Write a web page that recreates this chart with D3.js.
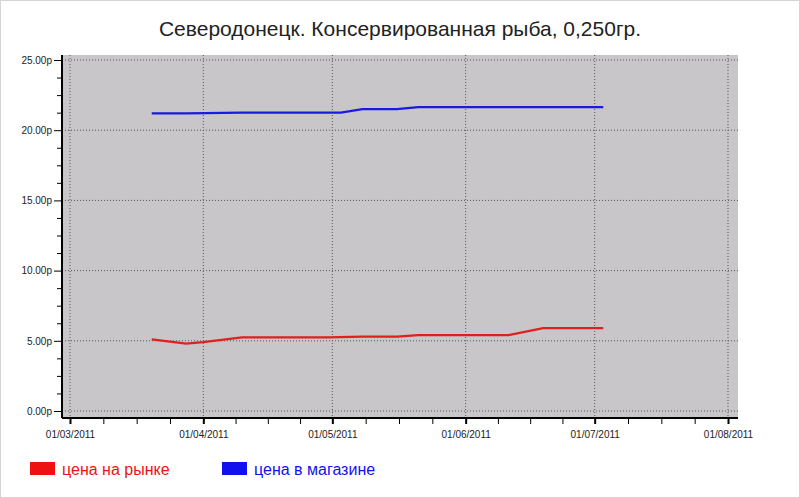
<!DOCTYPE html>
<html><head><meta charset="utf-8">
<script src="https://cdn.jsdelivr.net/npm/d3@7"></script>
<style>
body{margin:0;background:#fff;}
svg{font-family:"DejaVu Sans",sans-serif;}
</style></head>
<body><svg></svg>
<script>
const W = 800, H = 498;
const svg = d3.select("svg").attr("width", W).attr("height", H);

// data
const blueDates = ["2011-03-20","2011-03-28","2011-04-10","2011-04-17","2011-04-23","2011-04-30","2011-05-03","2011-05-08","2011-05-16","2011-05-21","2011-05-29","2011-06-05","2011-06-11","2011-06-19","2011-06-25","2011-07-03"];
const blueValues = [21.2,21.2,21.25,21.25,21.25,21.25,21.25,21.5,21.5,21.65,21.65,21.65,21.65,21.65,21.65,21.65];
const redDates = ["2011-03-20","2011-03-28","2011-04-01","2011-04-10","2011-04-17","2011-04-23","2011-04-30","2011-05-08","2011-05-16","2011-05-21","2011-05-29","2011-06-05","2011-06-11","2011-06-19","2011-06-25","2011-07-03"];
const redValues = [5.1,4.8,4.9,5.25,5.25,5.25,5.25,5.3,5.3,5.4,5.4,5.4,5.4,5.9,5.9,5.9];
const yTicks = [0,5,10,15,20,25];
const monthTicks = ["2011-03-01","2011-04-01","2011-05-01","2011-06-01","2011-07-01","2011-08-01"];

const parse = d3.timeParse("%Y-%m-%d");
const x = d3.scaleTime().domain([parse("2011-03-01"), parse("2011-08-01")]).range([70, 728]);
const y = d3.scaleLinear().domain([0, 25]).range([411, 60]);

// frame
svg.append("rect").attr("x", 0.5).attr("y", 0.5).attr("width", W - 1).attr("height", H - 1)
    .attr("fill", "#fff").attr("stroke", "#d4d4d4");
svg.append("rect").attr("x", 62).attr("y", 55).attr("width", 676).attr("height", 363)
    .attr("fill", "#c8c6c8");

svg.append("text").attr("x", 400).attr("y", 36).attr("text-anchor", "middle")
    .attr("font-family", "Arial, 'Liberation Sans', sans-serif").attr("font-size", 21).attr("fill", "#222")
    .text("Северодонецк. Консервированная рыба, 0,250гр.");

// grid
const grid = svg.append("g").attr("stroke", "#555").attr("stroke-dasharray", "1,2").attr("stroke-width", 1);
grid.selectAll(".gy").data(yTicks).enter().append("line")
    .attr("x1", 62).attr("x2", 738).attr("y1", d => y(d)).attr("y2", d => y(d));
grid.selectAll(".gx").data(monthTicks).enter().append("line")
    .attr("y1", 55).attr("y2", 418).attr("x1", d => x(parse(d))).attr("x2", d => x(parse(d)));

// minor ticks
const minorY = d3.range(0, 25.01, 1.25);
const yAxis = d3.axisLeft(y).tickValues(minorY).tickSize(5).tickFormat(d => yTicks.includes(d) ? d3.format(".2f")(d) + "р" : "");
const gy = svg.append("g").attr("transform", "translate(62,0)").call(yAxis);
gy.selectAll(".tick line").attr("x2", d => yTicks.includes(d) ? -8 : -5);
gy.select(".domain").attr("stroke-width", 2).attr("d", "M0,55V418");
gy.selectAll("text").attr("font-size", 10).attr("fill", "#222").attr("x", -10);

const minorX = [];
monthTicks.forEach((d, i) => {
    if (i < monthTicks.length - 1) {
        const a = parse(d), b = parse(monthTicks[i + 1]);
        for (let k = 0; k < 4; k++) minorX.push(new Date(+a + (b - a) * k / 4));
    }
});
minorX.push(parse(monthTicks[monthTicks.length - 1]));
const fmt = d3.timeFormat("%d/%m/%Y");
const isMonth = d => d.getDate() === 1 && d.getHours() === 0;
const xAxis = d3.axisBottom(x).tickValues(minorX).tickSize(6)
    .tickFormat(d => isMonth(d) ? fmt(d) : "");
const gx = svg.append("g").attr("transform", "translate(0,418)").call(xAxis);
gx.select(".domain").attr("stroke-width", 2).attr("d", "M62,0H738");
gx.selectAll(".tick line").attr("stroke-width", d => isMonth(d) ? 2 : 1);
gx.selectAll("text").attr("font-size", 10).attr("fill", "#222").attr("y", 13);

// lines
const line = d3.line().x(d => x(d[0])).y(d => y(d[1]));
const redData = redDates.map((d, i) => [parse(d), redValues[i]]);
const blueData = blueDates.map((d, i) => [parse(d), blueValues[i]]);
svg.append("path").datum(redData).attr("d", line).attr("fill", "none").attr("stroke", "#e02020").attr("stroke-width", 2.2);
svg.append("path").datum(blueData).attr("d", line).attr("fill", "none").attr("stroke", "#1a1ae0").attr("stroke-width", 2.2);

// legend
const legend = [{t: "цена на рынке", c: "#ee1111", x: 30}, {t: "цена в магазине", c: "#1111ee", x: 222}];
legend.forEach(l => {
    svg.append("rect").attr("x", l.x).attr("y", 462).attr("width", 25).attr("height", 13).attr("fill", l.c);
    svg.append("text").attr("x", l.x + 32).attr("y", 475).attr("font-size", 16)
        .attr("font-family", "Arial, 'Liberation Sans', sans-serif").attr("fill", l.c).text(l.t);
});
</script></body></html>
